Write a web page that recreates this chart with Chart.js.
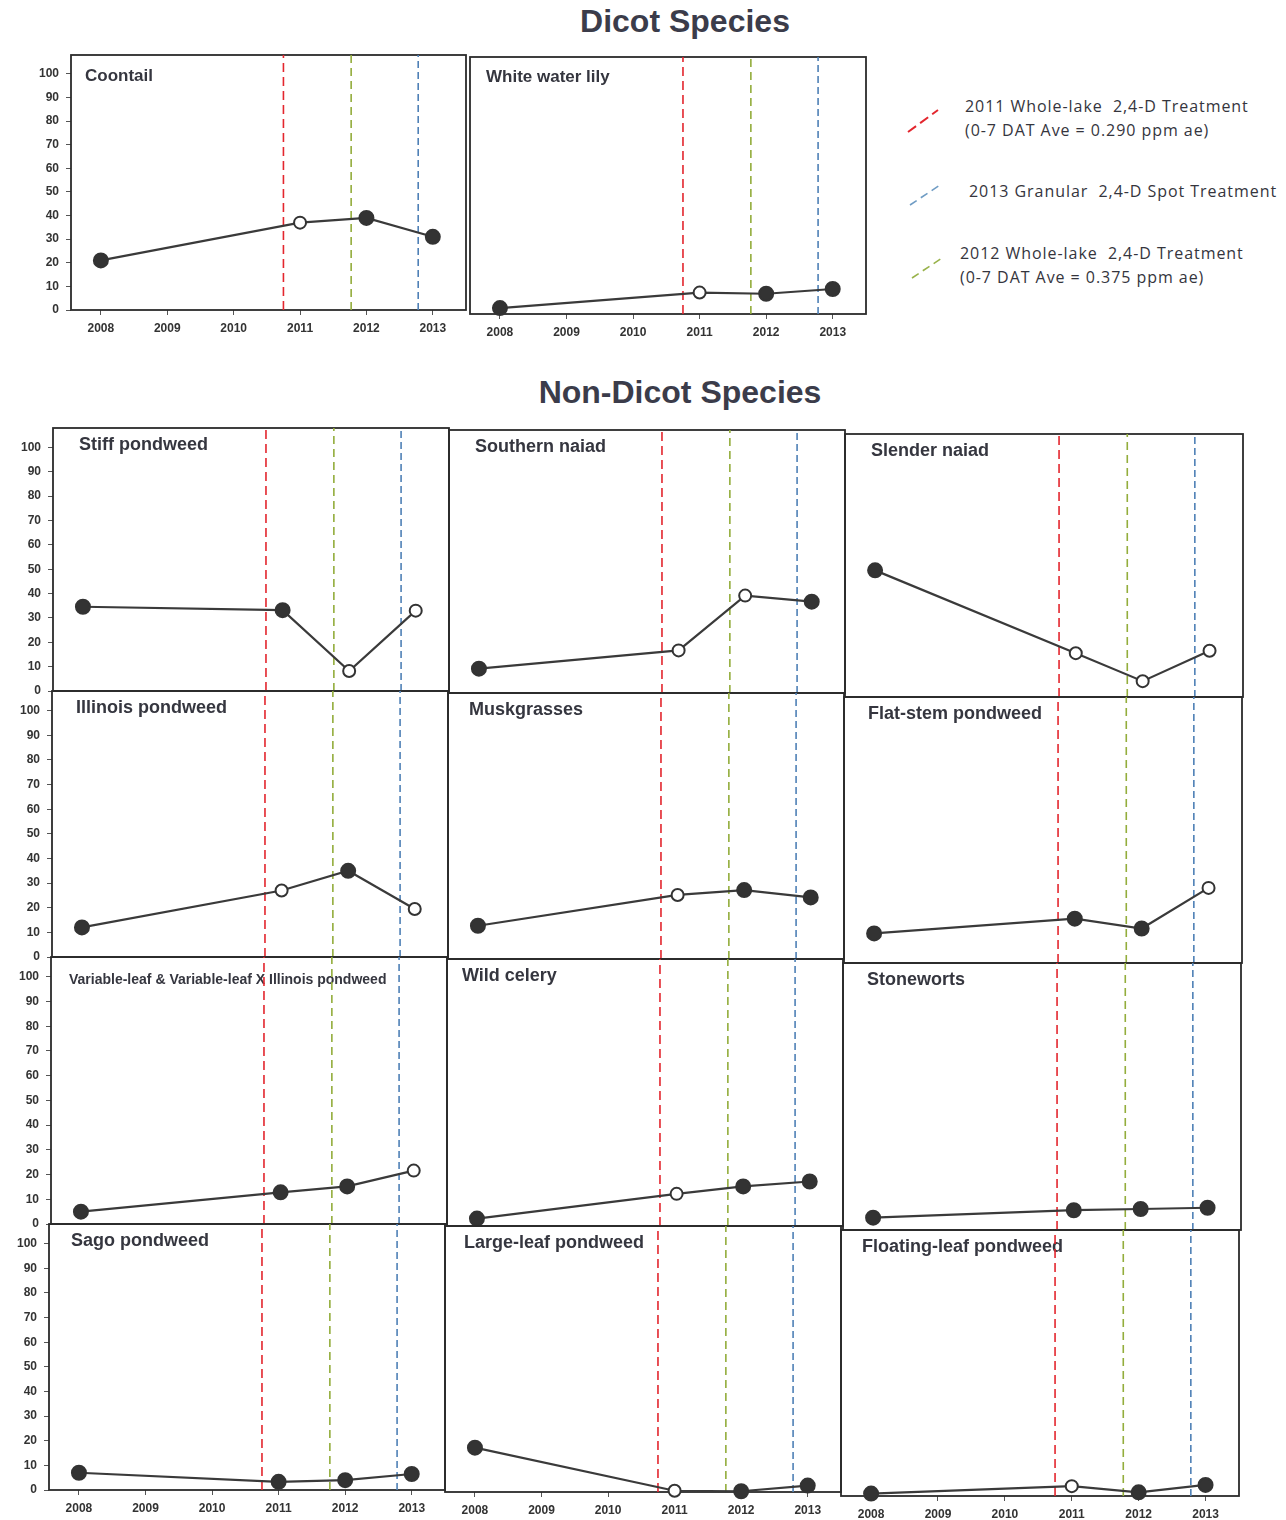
<!DOCTYPE html>
<html>
<head>
<meta charset="utf-8">
<script src="https://cdn.jsdelivr.net/npm/chart.js@4.4.1/dist/chart.umd.min.js"></script>
<style>
  body { margin: 0; background: #fff; width: 1286px; height: 1520px; position: relative; overflow: hidden; font-family: Arial, "Liberation Sans", sans-serif; }
  canvas { position: absolute; }
  .big { position: absolute; width: 500px; text-align: center; font-weight: bold; font-size: 32px; color: #3b3c4a; }
  .leg { position: absolute; font-family: "Open Sans", sans-serif; font-size: 16px; line-height: 24px; color: #35353d; white-space: nowrap; letter-spacing: 0.95px; }
  svg { position: absolute; left: 0; top: 0; }
</style>
</head>
<body>
<div class="big" style="left:435px;top:3px">Dicot Species</div>
<div class="big" style="left:430px;top:374px">Non-Dicot Species</div>

<svg width="1286" height="320">
  <line x1="908" y1="132" x2="938" y2="110" stroke="#e3262e" stroke-width="2" stroke-dasharray="10,5"/>
  <line x1="910" y1="205" x2="940" y2="185" stroke="#6f9cc4" stroke-width="1.6" stroke-dasharray="8,5"/>
  <line x1="912" y1="278" x2="942" y2="258" stroke="#98b24a" stroke-width="1.6" stroke-dasharray="8,5"/>
</svg>
<div class="leg" style="left:965px;top:94px">2011 Whole-lake&nbsp; 2,4-D Treatment<br>(0-7 DAT Ave = 0.290 ppm ae)</div>
<div class="leg" style="left:969px;top:179px">2013 Granular&nbsp; 2,4-D Spot Treatment</div>
<div class="leg" style="left:960px;top:241px">2012 Whole-lake&nbsp; 2,4-D Treatment<br>(0-7 DAT Ave = 0.375 ppm ae)</div>

<script>
// axis ticks
const xTicks = [2008, 2009, 2010, 2011, 2012, 2013];
const yTicks = [0, 10, 20, 30, 40, 50, 60, 70, 80, 90, 100];
const surveyYears = [2008, 2011, 2012, 2013];
// treatment dates (red, green, blue dashed lines)
const treatmentYears = [2010.75, 2011.77, 2012.78];

// frequency of occurrence (%), open = 1 means hollow marker
const coontail = [21, 37, 39, 31];
const coontailOpen = [0, 1, 0, 0];
const whiteWaterLily = [2.5, 9, 8.5, 10.5];
const whiteWaterLilyOpen = [0, 1, 0, 0];

const stiffPondweed = [34.6, 33.2, 8.2, 33];
const stiffPondweedOpen = [0, 0, 1, 1];
const southernNaiad = [10, 17.5, 40, 37.5];
const southernNaiadOpen = [0, 1, 1, 0];
const slenderNaiad = [52, 18, 6.5, 19];
const slenderNaiadOpen = [0, 1, 1, 1];
const illinoisPondweed = [12, 27, 35, 19.5];
const illinoisPondweedOpen = [0, 1, 0, 1];
const muskgrasses = [13.5, 26, 28, 25];
const muskgrassesOpen = [0, 1, 0, 0];
const flatStemPondweed = [12, 18, 14, 30.5];
const flatStemPondweedOpen = [0, 0, 0, 1];
const variableLeaf = [5, 12.8, 15.2, 21.6];
const variableLeafOpen = [0, 0, 0, 1];
const wildCelery = [3, 13, 16, 18];
const wildCeleryOpen = [0, 1, 0, 0];
const stoneworts = [5, 8, 8.5, 9];
const stonewortsOpen = [0, 0, 0, 0];
const sagoPondweed = [7, 3.3, 4, 6.5];
const sagoPondweedOpen = [0, 0, 0, 0];
const largeLeafPondweed = [18, 0.5, 0.3, 2.6];
const largeLeafPondweedOpen = [0, 1, 0, 0];
const floatingLeafPondweed = [1, 4, 1.5, 4.5];
const floatingLeafPondweedOpen = [0, 1, 0, 0];

const Y_MAX = 108;
const X_MIN = 2007.55, X_MAX = 2013.5;
const lineColors = ['#e3262e', '#93ad3c', '#4f80b6'];
const lineDashes = [[9, 5], [8, 5], [7, 4]];

const panelFrame = {
  id: 'panelFrame',
  beforeDatasetsDraw(chart, args, opts) {
    const a = chart.chartArea, ctx = chart.ctx;
    ctx.save();
    ctx.strokeStyle = '#2b2b2b';
    ctx.lineWidth = 1.8;
    ctx.strokeRect(a.left, a.top, a.right - a.left, a.bottom - a.top);
    ctx.fillStyle = '#35363f';
    ctx.font = opts.font;
    ctx.textBaseline = 'alphabetic';
    ctx.fillText(opts.text, a.left + opts.dx, a.top + opts.dy);
    ctx.restore();
  }
};

function makePanel(p) {
  const YW = p.left ? 48 : 0, XH = p.bottom ? 32 : 0, PAD = 3;
  const [x0, y0, x1, y1] = p.box;
  const c = document.createElement('canvas');
  c.width = (x1 - x0) + YW + 2 * PAD;
  c.height = (y1 - y0) + XH + 2 * PAD;
  c.style.left = (x0 - YW - PAD) + 'px';
  c.style.top = (y0 - PAD) + 'px';
  document.body.appendChild(c);

  const datasets = [{
    data: surveyYears.map((yr, i) => ({ x: yr, y: p.values[i] })),
    borderColor: '#3a3a3a',
    borderWidth: 2.2,
    pointRadius: p.open.map(o => o ? 6 : 7),
    pointBorderWidth: 2,
    pointBorderColor: '#333',
    pointBackgroundColor: p.open.map(o => o ? '#fff' : '#333'),
    clip: false
  }];
  treatmentYears.forEach((t, i) => {
    datasets.push({
      data: [{ x: t, y: 0 }, { x: t, y: Y_MAX }],
      borderColor: lineColors[i],
      borderWidth: 1.6,
      borderDash: lineDashes[i],
      pointRadius: 0
    });
  });

  const tickFont = { family: 'Arial', size: 12, weight: 'bold' };
  new Chart(c, {
    type: 'line',
    data: { datasets },
    options: {
      responsive: false,
      animation: false,
      events: [],
      layout: { padding: PAD, autoPadding: false },
      plugins: {
        legend: { display: false },
        tooltip: { enabled: false },
        panelFrame: { text: p.name, dx: p.tx, dy: p.ty, font: p.font }
      },
      scales: {
        x: {
          type: 'linear', min: X_MIN, max: X_MAX,
          afterBuildTicks: s => { s.ticks = xTicks.map(v => ({ value: v })); },
          afterFit: s => { s.height = XH; s.paddingLeft = 0; s.paddingRight = 0; },
          ticks: { display: p.bottom, font: tickFont, color: '#333', padding: 6, callback: v => String(v) },
          grid: { drawOnChartArea: false, drawTicks: p.bottom, tickLength: 5, color: '#555' },
          border: { display: false }
        },
        y: {
          type: 'linear', min: 0, max: Y_MAX,
          afterBuildTicks: s => { s.ticks = yTicks.map(v => ({ value: v })); },
          afterFit: s => { s.width = YW; s.paddingTop = 0; s.paddingBottom = 0; },
          ticks: { display: p.left, font: tickFont, color: '#333', padding: 7, callback: v => String(v) },
          grid: { drawOnChartArea: false, drawTicks: p.left, tickLength: 5, color: '#555' },
          border: { display: false }
        }
      }
    },
    plugins: [panelFrame]
  });
}

const wideFont = 'bold 17px Arial';
const narrowFont = 'bold 18px "Liberation Sans Narrow", "Arial Narrow", Arial';

makePanel({ name: 'Coontail', values: coontail, open: coontailOpen, box: [71, 55, 466, 310], left: true, bottom: true, tx: 14, ty: 26, font: wideFont });
makePanel({ name: 'White water lily', values: whiteWaterLily, open: whiteWaterLilyOpen, box: [470, 57, 866, 314], left: false, bottom: true, tx: 16, ty: 25, font: wideFont });

// non-dicot grid
const colX = [[53, 449], [449, 845], [845, 1243]];
const rowY = [[428, 691], [691, 957], [957, 1224], [1224, 1490]];
const colShift = [0, 2, 6];
const rowShift = [0, -1, -2, -4];
const nonDicot = [
  ['Stiff pondweed', stiffPondweed, stiffPondweedOpen],
  ['Southern naiad', southernNaiad, southernNaiadOpen],
  ['Slender naiad', slenderNaiad, slenderNaiadOpen],
  ['Illinois pondweed', illinoisPondweed, illinoisPondweedOpen],
  ['Muskgrasses', muskgrasses, muskgrassesOpen],
  ['Flat-stem pondweed', flatStemPondweed, flatStemPondweedOpen],
  ['Variable-leaf & Variable-leaf X Illinois pondweed', variableLeaf, variableLeafOpen],
  ['Wild celery', wildCelery, wildCeleryOpen],
  ['Stoneworts', stoneworts, stonewortsOpen],
  ['Sago pondweed', sagoPondweed, sagoPondweedOpen],
  ['Large-leaf pondweed', largeLeafPondweed, largeLeafPondweedOpen],
  ['Floating-leaf pondweed', floatingLeafPondweed, floatingLeafPondweedOpen]
];
const titleDx = [26, 26, 26, 24, 21, 24, 18, 15, 24, 22, 19, 21];

nonDicot.forEach(([name, values, open], i) => {
  const r = Math.floor(i / 3), col = i % 3;
  const dx = rowShift[r], dy = colShift[col];
  const isLong = name.length > 30;
  makePanel({
    name, values, open,
    box: [colX[col][0] + dx, rowY[r][0] + dy, colX[col][1] + dx, rowY[r][1] + dy],
    left: col === 0, bottom: r === 3,
    tx: titleDx[i], ty: isLong ? 27 : 22,
    font: isLong ? 'bold 14px "Liberation Sans Narrow", "Arial Narrow", Arial' : narrowFont
  });
});
</script>
</body>
</html>
